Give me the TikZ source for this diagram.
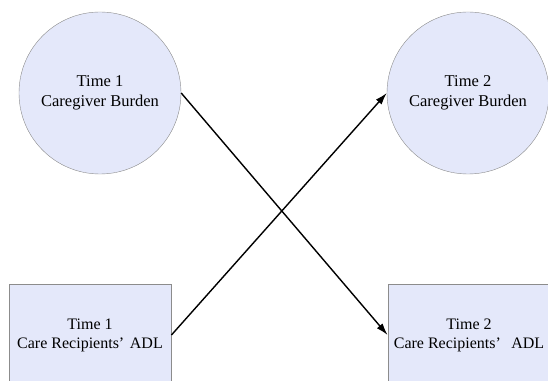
\documentclass[tikz,border=0pt]{standalone}
\usepackage{fontspec}
\setmainfont{Liberation Serif}
\usetikzlibrary{arrows.meta}

\definecolor{nodefill}{RGB}{228,232,250}
\definecolor{nodeline}{RGB}{140,140,140}

\tikzset{
    burden/.style={circle,draw=nodeline,fill=nodefill,minimum size=162pt,
        inner sep=0pt,align=center,font=\fontsize{16.5}{20}\selectfont},
    adl/.style={rectangle,draw=nodeline,line width=0.9pt,fill=nodefill,
        minimum width=162pt,minimum height=102pt,align=center,
        font=\fontsize{16}{19}\selectfont},
    path/.style={line width=1.4pt,-{Latex[length=12pt,width=7.5pt]}}
}

\begin{document}
\begin{tikzpicture}[x=1pt,y=1pt]

% Frame
\useasboundingbox (0,0) rectangle (548,380);

% Caregiver burden
\node[burden] (cb1) at (100,287) {Time 1\\Caregiver Burden};
\node[burden] (cb2) at (468,287) {Time 2\\Caregiver Burden};

% Care recipients' ADL
\node[adl] (adl1) at (90,45) {Time 1\\Care Recipients’\hspace{0.1em} ADL};
\node[adl] (adl2) at (469,45) {Time 2\\Care Recipients’\hspace{0.4em} ADL};

% Cross-lagged paths
\draw[path] (cb1.east) -- (adl2.west);
\draw[path] (adl1.east) -- (cb2.west);

\end{tikzpicture}
\end{document}
